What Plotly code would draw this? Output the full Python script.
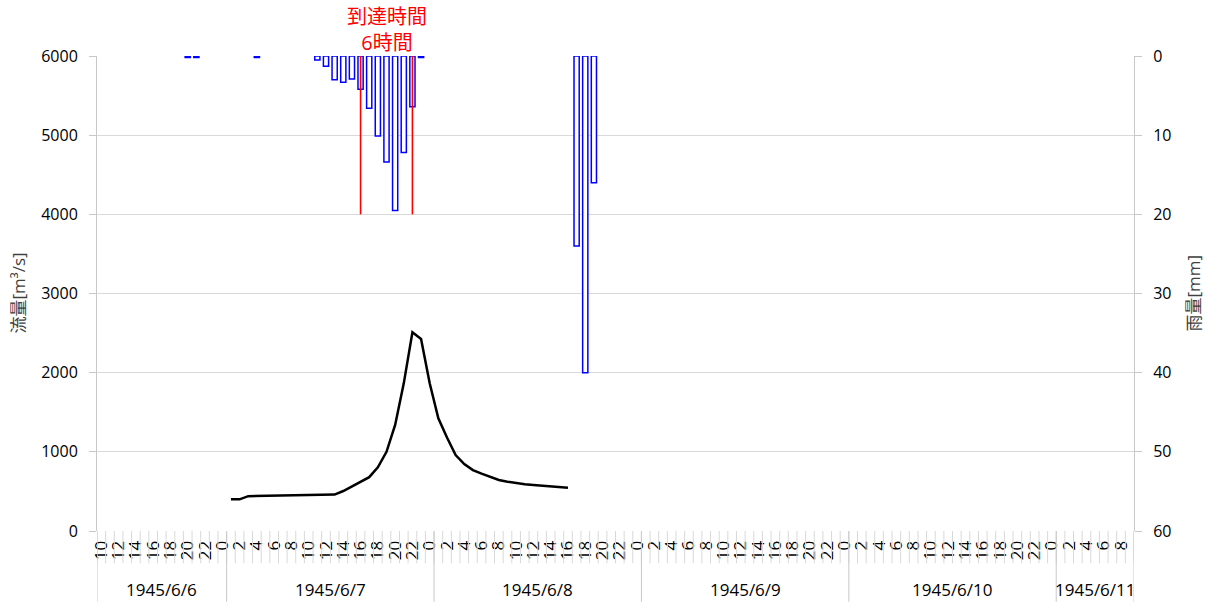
import plotly.graph_objects as go

# ---- categories (date, hour) ; hour 24 is shown as "0" ----
dates = ["1945/6/6", "1945/6/7", "1945/6/8", "1945/6/9", "1945/6/10", "1945/6/11"]
first_hours = [10, 1, 1, 1, 1, 1]
last_hours = [24, 24, 24, 24, 24, 9]

# ---- rainfall [mm] ----
rain_date = ["1945/6/6", "1945/6/6", "1945/6/7",
             "1945/6/7", "1945/6/7", "1945/6/7", "1945/6/7", "1945/6/7", "1945/6/7",
             "1945/6/7", "1945/6/7", "1945/6/7", "1945/6/7", "1945/6/7", "1945/6/7", "1945/6/7",
             "1945/6/8", "1945/6/8", "1945/6/8"]
rain_hour = [20, 21, 4,
             11, 12, 13, 14, 15, 16,
             17, 18, 19, 20, 21, 22, 23,
             17, 18, 19]
rain_mm = [0.2, 0.2, 0.2,
           0.5, 1.3, 3.0, 3.3, 2.9, 4.2,
           6.6, 10.1, 13.4, 19.5, 12.2, 6.4, 0.2,
           24.0, 40.0, 16.0]

# ---- discharge [m3/s] ----
flow_date = ["1945/6/7"] * 24 + ["1945/6/8"] * 16
flow_hour = list(range(1, 25)) + list(range(1, 17))
flow_m3s = [400, 400, 440, 442, 443, 446, 447, 450, 451, 452, 453, 455, 460, 505, 560, 615,
            680, 805, 1000, 1339, 1865, 2510, 2425, 1865, 1423, 1180, 960, 846, 770, 724,
            686, 644, 623, 602, 590, 581, 572, 568, 560, 547]

# ---- arrival time markers ----
arrival_date = ["1945/6/7", "1945/6/7"]
arrival_hour = [16, 22]
arrival_depth_mm = 20
arrival_label = "到達時間<br>6時間"

cats = []
for d, f, l in zip(dates, first_hours, last_hours):
    for h in range(f, l + 1):
        cats.append((d, h))
idx = {c: i for i, c in enumerate(cats)}
N = len(cats)

rain_x = [idx[(d, h)] for d, h in zip(rain_date, rain_hour)]
flow_x = [idx[(d, h)] for d, h in zip(flow_date, flow_hour)]
arr_x = [idx[(d, h)] for d, h in zip(arrival_date, arrival_hour)]

FONT = "Open Sans, Noto Sans CJK JP, sans-serif"
GRID = "#d9d9d9"
AXC = "#c8c8c8"

fig = go.Figure()

fig.add_trace(go.Bar(
    x=rain_x, y=rain_mm, yaxis="y2", width=0.6,
    marker=dict(color="white", line=dict(color="#0000ff", width=1.5)),
    showlegend=False, hoverinfo="skip"))

rx, ry = [], []
for x in arr_x:
    rx += [x, x, None]
    ry += [0, arrival_depth_mm, None]
fig.add_trace(go.Scatter(x=rx, y=ry, yaxis="y2", mode="lines",
                         line=dict(color="#ff0000", width=1.6),
                         showlegend=False, hoverinfo="skip"))

fig.add_trace(go.Scatter(x=flow_x, y=flow_m3s, mode="lines",
                         line=dict(color="black", width=2.5),
                         showlegend=False))

tickvals = [i for i, (d, h) in enumerate(cats) if h % 2 == 0]
ticktext = [str(cats[i][1] % 24) for i in tickvals]

shapes = []
# category boundary ticks
for b in range(N + 1):
    shapes.append(dict(type="line", xref="x", yref="paper", x0=b - 0.5, x1=b - 0.5,
                       y0=0, y1=-0.068, line=dict(color=GRID, width=1)))
# day separators
pos = -0.5
bounds = [pos]
for d, f, l in zip(dates, first_hours, last_hours):
    pos += l - f + 1
    bounds.append(pos)
for b in bounds:
    shapes.append(dict(type="line", xref="x", yref="paper", x0=b, x1=b,
                       y0=0, y1=-0.149, line=dict(color=AXC, width=1)))

annotations = []
for k, d in enumerate(dates):
    annotations.append(dict(x=(bounds[k] + bounds[k + 1]) / 2, xref="x",
                            y=-0.124, yref="paper", text=d, showarrow=False,
                            font=dict(family=FONT, size=17, color="black"),
                            xanchor="center", yanchor="middle"))
annotations.append(dict(x=sum(arr_x) / len(arr_x), xref="x", y=1.0, yref="paper",
                        yanchor="bottom", xanchor="center", yshift=-2, text=arrival_label,
                        showarrow=False,
                        font=dict(family=FONT, size=20, color="#ff0000")))
annotations.append(dict(x=-79 / 1037, xref="paper", y=0.5, yref="paper",
                        xanchor="center", yanchor="middle",
                        text="流量[m³/s]", textangle=-90, showarrow=False,
                        font=dict(family=FONT, size=17, color="#404040")))
annotations.append(dict(x=1 + 59 / 1037, xref="paper", y=0.5, yref="paper",
                        xanchor="center", yanchor="middle",
                        text="雨量[mm]", textangle=-90, showarrow=False,
                        font=dict(family=FONT, size=17, color="#404040")))

fig.update_layout(
    width=1217, height=606,
    margin=dict(l=97, r=83, t=56, b=75, pad=0),
    paper_bgcolor="white", plot_bgcolor="white",
    font=dict(family=FONT, size=16, color="black"),
    barmode="overlay",
    xaxis=dict(range=[-0.5, N - 0.5], showgrid=False, zeroline=False,
               tickmode="array", tickvals=tickvals, ticktext=ticktext,
               tickangle=-90, ticks="outside", ticklen=2, tickcolor="rgba(0,0,0,0)",
               tickfont=dict(family=FONT, size=17, color="black"),
               showline=False),
    yaxis=dict(range=[0, 6000], dtick=1000, showgrid=True, gridcolor=GRID,
               zeroline=False, showline=True, linecolor=AXC,
               ticks="outside", ticklen=7, tickcolor=AXC,
               ticklabelstandoff=8,
               tickfont=dict(family=FONT, size=16, color="black")),
    yaxis2=dict(range=[60, 0], dtick=10, overlaying="y", side="right",
                showgrid=False, zeroline=False, showline=True, linecolor=AXC,
                ticks="outside", ticklen=7, tickcolor=AXC,
                ticklabelstandoff=8,
                tickfont=dict(family=FONT, size=16, color="black")),
    shapes=shapes, annotations=annotations,
)

fig.write_html("out.html")
